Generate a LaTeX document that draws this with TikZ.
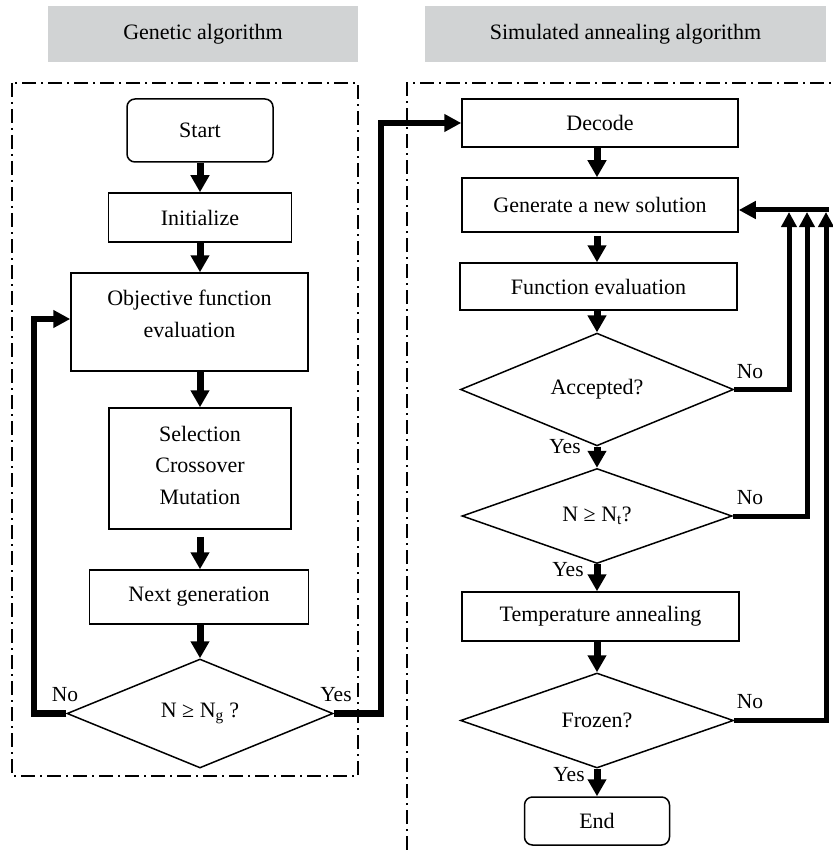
\documentclass[tikz,border=0pt]{standalone}
\usepackage{fontspec}
\setmainfont{Liberation Serif}
\usetikzlibrary{shapes.geometric,arrows.meta}
\definecolor{hdrgray}{RGB}{209,211,212}
\begin{document}
\begin{tikzpicture}[x=1pt,y=-1pt,
  every node/.style={font=\fontsize{22}{31.5}\selectfont},
  box/.style={draw, line width=1.5pt, inner sep=0pt, align=center},
  rbox/.style={box, rounded corners=8pt},
  dia/.style={draw, diamond, line width=1.5pt, inner sep=0pt},
  hdr/.style={fill=hdrgray, inner sep=0pt, minimum height=56pt},
  dashframe/.style={line width=1.2pt, dash pattern=on 14pt off 5pt on 2pt off 5pt},
  lbl/.style={font=\fontsize{21.5}{24}\selectfont, inner sep=0pt},
  darrow/.style={line width=7pt, -{Triangle[length=17pt,width=18pt]}},
  harrow/.style={line width=6.5pt, -{Triangle[length=17pt,width=17pt]}},
  uarrow/.style={line width=5pt, -{Triangle[length=15pt,width=15pt]}},
  garrow/.style={line width=5pt, -{Triangle[length=17pt,width=17pt]}},
]
\useasboundingbox (0,0) rectangle (832,850);

% headers
\node[hdr, minimum width=310pt] (hga) at (203,34) {Genetic algorithm};
\node[hdr, minimum width=401pt] (hsa) at (625.5,34) {Simulated annealing algorithm};

% frames
\draw[dashframe] (12,83) rectangle (358,776);
\draw[dashframe] (407,850) -- (407,83) -- (832,83);

% left column
\node[rbox, minimum width=146pt, minimum height=63pt] (start) at (200,130.5) {Start};
\node[box, minimum width=183pt, minimum height=49pt] (init) at (200,217.5) {Initialize};
\node[box, minimum width=237pt, minimum height=98pt] (obj) at (189.5,322) {};
\node[align=center, inner sep=0pt] (objtxt) at (189.5,314) {Objective function\\evaluation};
\node[box, minimum width=182pt, minimum height=121pt] (sel) at (200,468.5) {};
\node[align=center, inner sep=0pt] (seltxt) at (200,465) {Selection\\Crossover\\Mutation};
\node[box, minimum width=219pt, minimum height=54pt] (next) at (199,597) {Next generation};
\node[dia, minimum width=266pt, minimum height=109pt] (gdec) at (200,713.5) {N ≥ N\textsubscript{g} ?};

\draw[darrow] (start.south) -- (init.north);
\draw[darrow] (init.south) -- (init.south |- obj.north);
\draw[darrow] (sel.north |- obj.south) -- (sel.north);
\draw[darrow, shorten <=7pt] (sel.south) -- (sel.south |- next.north);
\draw[darrow] (gdec.north |- next.south) -- (gdec.north);

\coordinate (lp) at (34,319);
\draw[harrow] (gdec.west) -| (lp) -- (lp -| obj.west);
\coordinate (yp) at (381,123);

\node[lbl] (no1) at (65,695) {No};
\node[lbl] (yes1) at (336,695) {Yes};

% right column
\coordinate (rx) at (597,0);
\node[box, minimum width=276pt, minimum height=48pt] (decode) at (600,123) {Decode};
\node[box, minimum width=276pt, minimum height=54pt] (gen) at (600,205) {Generate a new solution};
\node[box, minimum width=277pt, minimum height=47pt] (feval) at (598.5,286.5) {Function evaluation};
\node[dia, minimum width=273pt, minimum height=95pt] (acc) at (597,389.5) {Accepted?};
\node[dia, minimum width=270pt, minimum height=95pt] (nt) at (597,516) {N ≥ N\textsubscript{t}?};
\node[box, minimum width=277pt, minimum height=49pt] (temp) at (600.5,616.5) {Temperature annealing};
\node[dia, minimum width=273pt, minimum height=95pt] (frz) at (597,720.5) {Frozen?};
\node[rbox, minimum width=145pt, minimum height=48pt] (end) at (597,821) {End};

\draw[harrow] (gdec.east) -| (yp) -- (decode.west);

\draw[darrow] (decode.south -| rx) -- (gen.north -| rx);
\draw[darrow, shorten <=3pt] (gen.south -| rx) -- (feval.north -| rx);
\draw[darrow] (feval.south -| rx) -- (acc.north);
\draw[darrow] (acc.south) -- (nt.north);
\draw[darrow] (nt.south) -- (temp.north -| rx);
\draw[darrow] (temp.south -| rx) -- (frz.north);
\draw[darrow] (frz.south) -- (end.north);

\coordinate (fb) at (828.5,210);
\coordinate (c1) at (789,212);
\coordinate (c2) at (807,212);
\coordinate (c3) at (826,212);
\draw[uarrow] (acc.east) -| (c1);
\draw[uarrow] (nt.east) -| (c2);
\draw[uarrow] (frz.east) -| (c3);
\draw[garrow] (fb) -- (fb -| gen.east);

\node[lbl] (no2) at (750,372) {No};
\node[lbl] (no3) at (750,498) {No};
\node[lbl] (no4) at (750,702) {No};
\node[lbl] (yes2) at (565,447) {Yes};
\node[lbl] (yes3) at (568,570) {Yes};
\node[lbl] (yes4) at (569,775) {Yes};
\end{tikzpicture}
\end{document}
